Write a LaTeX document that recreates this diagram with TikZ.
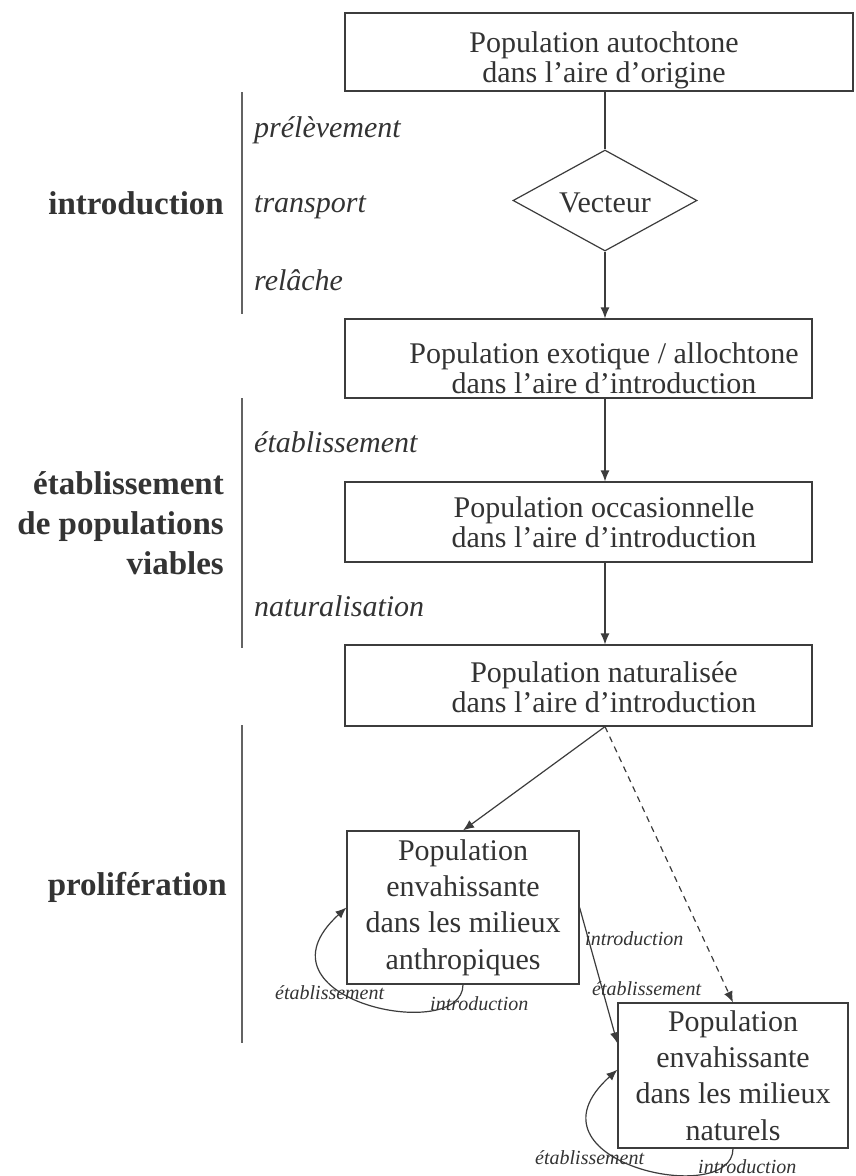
\documentclass[tikz,border=0pt]{standalone}
\usepackage{fontspec}
\setmainfont{Liberation Serif}
\usetikzlibrary{arrows.meta,shapes.geometric,calc}
\definecolor{ink}{HTML}{333333}
\definecolor{edge}{HTML}{3C3C3C}
\begin{document}
\begin{tikzpicture}[x=1pt,y=-1pt,
  box/.style={draw=edge, line width=1.2pt, inner sep=0pt, fill=white},
  boxtext/.style={text=ink, align=center, inner sep=0pt, font=\fontsize{30}{30}\selectfont},
  bigtext/.style={text=ink, align=center, inner sep=0pt, font=\fontsize{30}{36.3}\selectfont},
  phase/.style={text=ink, align=right, inner sep=0pt, font=\fontsize{33}{40}\selectfont\bfseries},
  stagelbl/.style={text=ink, inner sep=0pt, anchor=base west, font=\fontsize{30}{30}\selectfont\itshape},
  small/.style={text=ink, inner sep=0pt, anchor=base west, font=\fontsize{20}{20}\selectfont\itshape},
  conn/.style={draw=edge, line width=1.2pt},
  arr/.style={conn, -{Latex[length=11pt,width=9pt]}},
  sep/.style={draw=edge!80, line width=1.2pt}
]
\useasboundingbox (0,0) rectangle (855,1176);
\fill[white] (0,0) rectangle (855,1176);

% boxes
\node[box, minimum width=508pt, minimum height=78pt] (b1) at (599,52) {};
\node[boxtext] (t1) at (604,60.5) {\fontsize{30}{29}\selectfont Population autochtone\\dans l’aire d’origine};
\node[box, shape=diamond, minimum width=184pt, minimum height=101pt] (v) at (605,200.5) {};
\node[boxtext] (tv) at (605,203) {Vecteur};
\node[box, minimum width=467pt, minimum height=79pt] (b2) at (578.5,358.5) {};
\node[boxtext] (t2) at (604,368) {\fontsize{30}{29}\selectfont Population exotique / allochtone\\dans l’aire d’introduction};
\node[box, minimum width=467pt, minimum height=80pt] (b3) at (578.5,522) {};
\node[boxtext] (t3) at (604,522) {\fontsize{30}{33}\selectfont Population occasionnelle\\dans l’aire d’introduction};
\node[box, minimum width=467pt, minimum height=81pt] (b4) at (578.5,685.5) {};
\node[boxtext] (t4) at (604,687.5) {\fontsize{30}{30}\selectfont Population naturalisée\\dans l’aire d’introduction};
\node[box, bigtext, minimum width=232pt, minimum height=153pt] (b5) at (463,907.5) {Population\\envahissante\\dans les milieux\\anthropiques};
\node[box, bigtext, minimum width=230pt, minimum height=145pt] (b6) at (733,1075.5) {Population\\envahissante\\dans les milieux\\naturels};

% main connectors
\draw[conn] (b1.south -| v.north) -- (v.north);
\draw[arr] (v.south) -- (b2.north -| v.south);
\draw[arr] (b2.south -| v.south) -- (b3.north -| v.south);
\draw[arr] (b3.south -| v.south) -- (b4.north -| v.south);
\draw[arr] (b4.south -| v.south) -- (b5.north);
\draw[arr, dash pattern=on 6pt off 5pt] (b4.south -| v.south) -- (b6.north);
\draw[arr] (b5.east) -- ($(b6.north west)!0.28!(b6.south west)$);
\node[small] (l1) at (585,945) {introduction};
\node[small] (l2) at (592,995) {établissement};

% loops
\draw[arr] (b5.south) .. controls (463,1045) and (245,1000) .. ($(b5.north west)!0.5!(b5.south west)$);
\node[small] (l3) at (275,999) {établissement};
\node[small] (l4) at (430,1010) {introduction};
\draw[arr] (b6.south) .. controls (733,1209) and (515,1162) .. ($(b6.north west)!0.46!(b6.south west)$);
\node[small] (l5) at (535,1164) {établissement};
\node[small] (l6) at (698,1173) {introduction};

% left separators
\coordinate (s1a) at (242,92);  \coordinate (s1b) at (242,314);
\coordinate (s2a) at (242,398); \coordinate (s2b) at (242,648);
\coordinate (s3a) at (242,725); \coordinate (s3b) at (242,1043);
\draw[sep] (s1a) -- (s1b);
\draw[sep] (s2a) -- (s2b);
\draw[sep] (s3a) -- (s3b);

% stage labels
\node[stagelbl] (p1) at (254,137) {prélèvement};
\node[stagelbl] (p2) at (254,212) {transport};
\node[stagelbl] (p3) at (254,290) {relâche};
\node[stagelbl] (p4) at (254,452) {établissement};
\node[stagelbl] (p5) at (254,616) {naturalisation};

% phase labels
\node[phase, anchor=base east] (h1) at (224,214) {introduction};
\node[phase, anchor=east] (h2) at (224,523) {établissement\\de populations\\viables};
\node[phase, anchor=base east] (h3) at (227,895) {prolifération};
\end{tikzpicture}
\end{document}
